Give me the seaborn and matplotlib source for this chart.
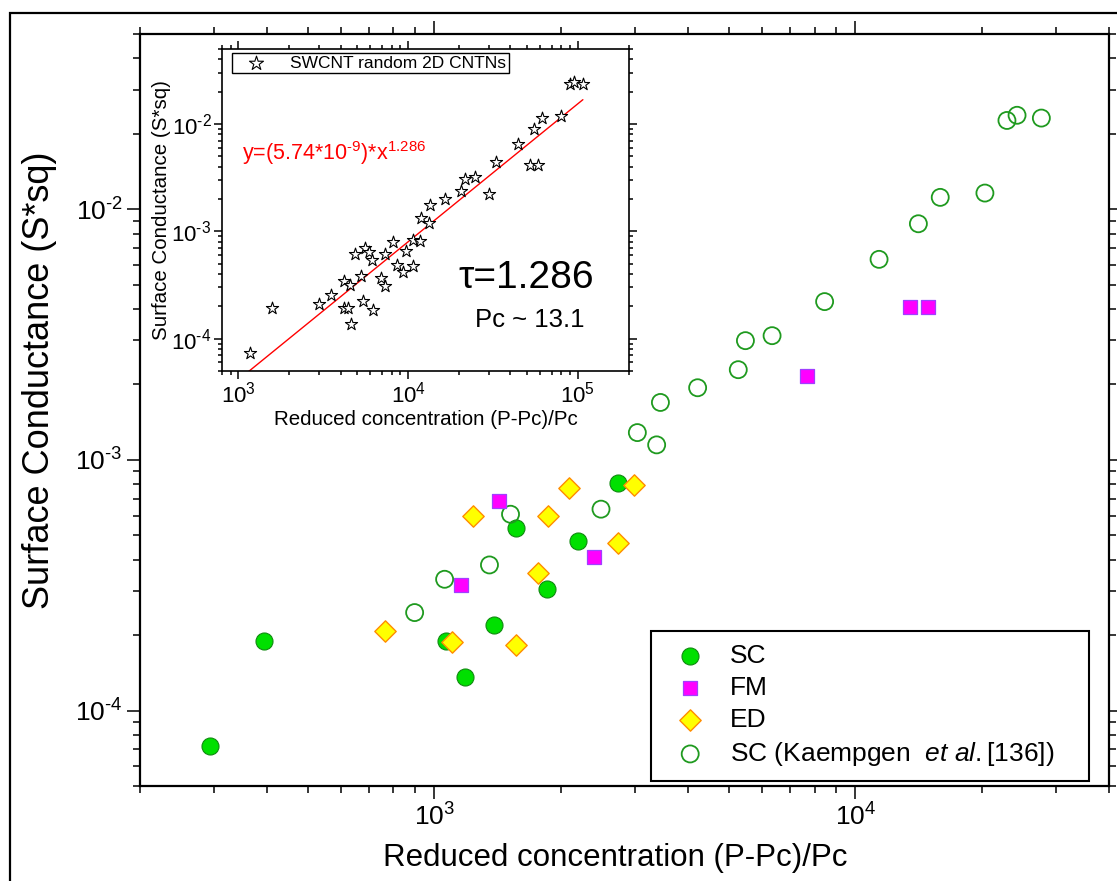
import numpy as np
import matplotlib
matplotlib.use('Agg')
import matplotlib.pyplot as plt
import seaborn as sns
from matplotlib.patches import Rectangle
from matplotlib.ticker import LogLocator, NullFormatter, FuncFormatter

# --- 1. Data ---
# main plot: reduced concentration vs surface conductance
sc_x = [293, 395, 1068, 1180, 1385, 1564, 1853, 2190, 2735]
sc_y = [7.24e-5, 1.90e-4, 1.90e-4, 1.36e-4, 2.19e-4, 5.37e-4, 3.05e-4, 4.75e-4, 8.12e-4]

fm_x = [1159, 1423, 2400, 7690, 13500, 14890]
fm_y = [3.17e-4, 6.86e-4, 4.10e-4, 2.17e-3, 4.09e-3, 4.09e-3]

ed_x = [762, 1103, 1237, 1564, 1761, 1866, 2084, 2735, 2986]
ed_y = [2.07e-4, 1.87e-4, 5.98e-4, 1.82e-4, 3.55e-4, 5.98e-4, 7.75e-4, 4.68e-4, 7.93e-4]

kae_x = [898, 1058, 1352, 1517, 2488, 3035, 3373, 3443, 4220, 5270,
         5480, 6340, 8450, 11380, 14110, 15900, 20300, 22900, 24200, 27640]
kae_y = [2.46e-4, 3.34e-4, 3.81e-4, 6.07e-4, 6.36e-4, 1.285e-3, 1.148e-3, 1.695e-3, 1.94e-3, 2.29e-3,
         2.99e-3, 3.13e-3, 4.28e-3, 6.31e-3, 8.75e-3, 1.115e-2, 1.16e-2, 2.26e-2, 2.37e-2, 2.31e-2]

# inset: SWCNT random 2D networks
star_x = [1170, 1570, 3000, 3520, 4170, 4540, 4200, 4400, 4630, 4880,
          5270, 5440, 5590, 5900, 6120, 6170, 6900, 7320, 7320, 8140,
          8560, 9370, 9670, 10700, 11700, 10700, 11900, 13200, 13500, 16400,
          20600, 21500, 24800, 30000, 32800, 44100, 52100, 58300, 55000, 61800,
          79200, 89400, 94400, 107500]
star_y = [7.3e-5, 1.93e-4, 2.12e-4, 2.53e-4, 3.42e-4, 3.18e-4, 1.93e-4, 1.93e-4, 1.38e-4, 6.15e-4,
          3.86e-4, 2.23e-4, 7.0e-4, 6.37e-4, 5.44e-4, 1.86e-4, 3.67e-4, 3.07e-4, 6.15e-4, 7.96e-4,
          4.89e-4, 4.18e-4, 6.52e-4, 8.24e-4, 8.18e-4, 4.79e-4, 1.32e-3, 1.20e-3, 1.75e-3, 2.0e-3,
          2.36e-3, 3.08e-3, 3.21e-3, 2.24e-3, 4.43e-3, 6.5e-3, 4.18e-3, 4.18e-3, 8.98e-3, 1.14e-2,
          1.20e-2, 2.36e-2, 2.46e-2, 2.38e-2]

# fitted power law shown in the inset
fit_a = 5.74e-9
fit_tau = 1.286
fit_x = np.array([1.1e3, 1.07e5])
fit_y = fit_a * fit_x ** fit_tau

# --- 2. Style ---
sns.set_style("ticks")
plt.rcParams['font.family'] = ['Liberation Sans', 'DejaVu Sans']
plt.rcParams['mathtext.fontset'] = 'custom'
plt.rcParams['mathtext.rm'] = 'Liberation Sans'
plt.rcParams['mathtext.it'] = 'Liberation Sans:italic'
plt.rcParams['mathtext.default'] = 'regular'
plt.rcParams['axes.unicode_minus'] = False
for key in ('text.color', 'axes.labelcolor', 'xtick.color', 'ytick.color', 'axes.edgecolor'):
    plt.rcParams[key] = 'black'


def pow10_label(v, pos):
    # short hyphen in the exponent like the original figure
    e = int(round(np.log10(v)))
    if e < 0:
        return '10$^{\u2010%d}$' % abs(e)
    return '10$^{%d}$' % e


fig = plt.figure(figsize=(11.17, 8.81), dpi=100)
ax = fig.add_axes([0.1253, 0.1078, 0.8675, 0.8536])
axin = fig.add_axes([0.1987, 0.5789, 0.3644, 0.3655])

for a in (ax, axin):
    a.set_xscale('log')
    a.set_yscale('log')

# --- 3. Main scatter ---
sns.scatterplot(x=sc_x, y=sc_y, ax=ax, marker='o', s=150, color='#00e000',
                edgecolor='#108a10', linewidth=0.8, label='SC', zorder=3)
sns.scatterplot(x=kae_x, y=kae_y, ax=ax, marker='o', s=150, facecolor='none',
                edgecolor='#1f9a1f', linewidth=1.3, label='SC (Kaempgen  $\\mathit{et\\ al.}$[136])', zorder=4)
sns.scatterplot(x=fm_x, y=fm_y, ax=ax, marker='s', s=110, color='#ff00ff',
                edgecolor='#a040ff', linewidth=0.9, label='FM', zorder=5)
sns.scatterplot(x=ed_x, y=ed_y, ax=ax, marker='D', s=118, color='#ffff00',
                edgecolor='#ff8c00', linewidth=1.0, label='ED', zorder=6)

ax.set_xlim(200, 4e4)
ax.set_ylim(5e-5, 5e-2)

h, l = ax.get_legend_handles_labels()
order = [0, 2, 3, 1]
leg = ax.legend([h[i] for i in order], [l[i] for i in order],
                loc='lower left', bbox_to_anchor=(0.527, 0.0066, 0.452, 0.225), mode='expand',
                fontsize=19, frameon=True, fancybox=False, edgecolor='black', framealpha=1,
                borderpad=0.5, labelspacing=0.3, handlelength=2, handletextpad=0.5,
                borderaxespad=0, scatterpoints=1)
leg.get_frame().set_linewidth(1.5)

ax.set_xlabel('Reduced concentration (P-Pc)/Pc', fontsize=22.5)
ax.set_ylabel('Surface Conductance (S*sq)', fontsize=26)
ax.xaxis.set_label_coords(0.491, -0.076)
ax.yaxis.set_label_coords(-0.0857, 0.54)

# --- 4. Inset ---
sns.scatterplot(x=star_x, y=star_y, ax=axin, marker='*', s=85, facecolor='white',
                edgecolor='black', linewidth=0.8, label='SWCNT random 2D CNTNs', zorder=3)
sns.lineplot(x=fit_x, y=fit_y, ax=axin, color='red', linewidth=1.0, zorder=2)

axin.set_xlim(800, 2e5)
axin.set_ylim(5e-5, 5e-2)
axin.set_facecolor('white')

lg2 = axin.legend(handles=[axin.collections[0]], labels=['SWCNT random 2D CNTNs'],
                  loc='upper left', bbox_to_anchor=(0.0246, 0.9876), fontsize=12.5,
                  frameon=True, fancybox=False, edgecolor='black', framealpha=1,
                  borderpad=0.15, handlelength=2.5, handletextpad=0.7, borderaxespad=0,
                  scatterpoints=1, markerscale=1.15)
lg2.get_frame().set_linewidth(1.0)

axin.text(0.049, 0.677, 'y=(5.74*10$^{\u20109}$)*x$^{1.286}$', color='red', fontsize=15.5,
          transform=axin.transAxes, va='center', ha='left')
axin.text(0.747, 0.289, 'τ=1.286', fontsize=28, transform=axin.transAxes,
          va='center', ha='center')
axin.text(0.757, 0.158, 'Pc ~ 13.1', fontsize=18.5, transform=axin.transAxes,
          va='center', ha='center')

axin.set_xlabel('Reduced concentration (P-Pc)/Pc', fontsize=14.8)
axin.set_ylabel('Surface Conductance (S*sq)', fontsize=14.8)
axin.xaxis.set_label_coords(0.5, -0.121)
axin.yaxis.set_label_coords(-0.124, 0.5)

# --- 5. Ticks and spines ---
for a, lab, maj, mino, sw, pd in ((ax, 19, 9.5, 5, 1.6, 3), (axin, 16, 6, 3, 1.2, 1.5)):
    for axis in (a.xaxis, a.yaxis):
        axis.set_major_locator(LogLocator(base=10, numticks=20))
        axis.set_minor_locator(LogLocator(base=10, subs=np.arange(2, 10), numticks=50))
        axis.set_major_formatter(FuncFormatter(pow10_label))
        axis.set_minor_formatter(NullFormatter())
    a.tick_params(which='both', direction='out', top=True, right=True,
                  width=1.1, colors='black', labelsize=lab, pad=pd)
    a.tick_params(which='major', length=maj)
    a.tick_params(which='minor', length=mino)
    for sp in a.spines.values():
        sp.set_visible(True)
        sp.set_linewidth(sw)
        sp.set_color('black')

# outer frame of the picture
fig.add_artist(Rectangle((10 / 1117, -0.1), 1.2, 1.0852, transform=fig.transFigure,
                         fill=False, lw=1.6, ec='black', clip_on=False))

fig.savefig('out.png', dpi=100)
